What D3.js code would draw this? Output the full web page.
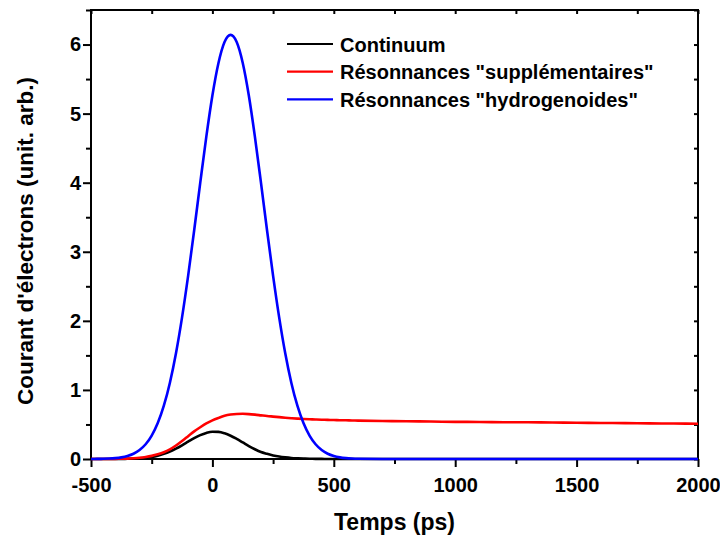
<!DOCTYPE html>
<html>
<head>
<meta charset="utf-8">
<script src="https://cdn.jsdelivr.net/npm/d3@7"></script>
<style>
  html, body { margin: 0; padding: 0; background: #fff; }
  svg { display: block; font-family: "Liberation Sans", Arial, sans-serif; font-weight: bold; }
</style>
</head>
<body>
<svg id="chart" width="720" height="539"></svg>
<script>
// Time samples (ps)
const times = [
  -500, -475, -450, -425, -400, -375, -350, -325, -300, -275,
  -250, -225, -200, -175, -150, -125, -100, -75, -50, -25,
  0, 25, 50, 75, 100, 125, 150, 175, 200, 225,
  250, 275, 300, 325, 350, 375, 400, 425, 450, 475,
  500, 525, 550, 575, 600, 700, 800, 900, 1000, 1100,
  1200, 1300, 1400, 1500, 1600, 1700, 1800, 1900, 2000
];

// Electron current, continuum contribution
const continuum = [
  0, 0, 0.0001, 0.0003, 0.0007, 0.0015, 0.0029, 0.0057, 0.0104, 0.0183,
  0.0307, 0.049, 0.0746, 0.108, 0.150, 0.198, 0.250, 0.301, 0.345, 0.377,
  0.394, 0.392, 0.372, 0.337, 0.291, 0.240, 0.188, 0.141, 0.101, 0.075,
  0.052, 0.035, 0.023, 0.014, 0.009, 0.0055, 0.0035, 0.002, 0.0012, 0.0007,
  0.0004, 0.0002, 0.0001, 0, 0, 0, 0, 0, 0, 0,
  0, 0, 0, 0, 0, 0, 0, 0, 0
];

// "Supplementary" resonances
const supplementaires = [
  0, 0.0002, 0.0005, 0.001, 0.002, 0.0035, 0.006, 0.011, 0.018, 0.029,
  0.045, 0.068, 0.098, 0.14, 0.195, 0.26, 0.33, 0.40, 0.46, 0.515,
  0.56, 0.595, 0.625, 0.643, 0.652, 0.654, 0.65, 0.642, 0.632, 0.622,
  0.614, 0.606, 0.598, 0.591, 0.585, 0.580, 0.576, 0.572, 0.569, 0.566,
  0.564, 0.562, 0.560, 0.558, 0.556, 0.550, 0.546, 0.542, 0.538, 0.536,
  0.533, 0.531, 0.528, 0.525, 0.522, 0.519, 0.516, 0.513, 0.51
];

// Hydrogen-like resonances
const hydrogenoides = [
  0.0007, 0.0015, 0.0032, 0.0064, 0.0126, 0.0237, 0.0433, 0.0762, 0.130, 0.213,
  0.339, 0.520, 0.771, 1.105, 1.531, 2.050, 2.651, 3.312, 4.00, 4.667,
  5.262, 5.733, 6.036, 6.14, 6.036, 5.733, 5.262, 4.667, 4.00, 3.312,
  2.651, 2.050, 1.531, 1.105, 0.771, 0.520, 0.339, 0.213, 0.130, 0.0762,
  0.0433, 0.0237, 0.0126, 0.0064, 0.0032, 0.0001, 0, 0, 0, 0,
  0, 0, 0, 0, 0, 0, 0, 0, 0
];

const seriesNames = ["Continuum", "Résonnances \"supplémentaires\"", "Résonnances \"hydrogenoides\""];
const seriesColors = ["#000000", "#ff0000", "#0000ff"];

const xTicks = [-500, 0, 500, 1000, 1500, 2000];
const xMinorTicks = [-250, 250, 750, 1250, 1750];
const yTicks = [0, 1, 2, 3, 4, 5, 6];
const yMinorTicks = [0.5, 1.5, 2.5, 3.5, 4.5, 5.5, 6.5];

const xTitle = "Temps (ps)";
const yTitle = "Courant d'électrons (unit. arb.)";

// Layout
const plot = { left: 91, right: 698, top: 10, bottom: 459 };

const svg = d3.select("#chart");

const x = d3.scaleLinear().domain([-500, 2000]).range([plot.left, plot.right]);
const y = d3.scaleLinear().domain([0, 6.5]).range([plot.bottom, plot.top]);

// Plain ASCII hyphen for negative numbers
const fmt = d => String(d);

function styleAxis(g) {
  g.select(".domain").remove();
  g.selectAll(".tick line").attr("stroke", "#000").attr("stroke-width", 2);
  g.selectAll(".tick text")
    .attr("fill", "#000")
    .style("font-family", "'Liberation Sans', Arial, sans-serif")
    .style("font-weight", "bold")
    .style("font-size", "20px");
}

// Bottom axis: major ticks with labels, minor ticks without
svg.append("g")
  .attr("transform", `translate(0,${plot.bottom})`)
  .call(d3.axisBottom(x).tickValues(xTicks).tickSize(8).tickPadding(11).tickFormat(fmt))
  .call(styleAxis);
svg.append("g")
  .attr("transform", `translate(0,${plot.bottom})`)
  .call(d3.axisBottom(x).tickValues(xMinorTicks).tickSize(5).tickFormat(""))
  .call(styleAxis);

// Left axis
svg.append("g")
  .attr("transform", `translate(${plot.left},0)`)
  .call(d3.axisLeft(y).tickValues(yTicks).tickSize(8).tickPadding(2).tickFormat(fmt))
  .call(styleAxis);
svg.append("g")
  .attr("transform", `translate(${plot.left},0)`)
  .call(d3.axisLeft(y).tickValues(yMinorTicks).tickSize(5).tickFormat(""))
  .call(styleAxis);

// Top and right axes: short inward ticks
svg.append("g")
  .attr("transform", `translate(0,${plot.top})`)
  .call(d3.axisTop(x).tickValues(xTicks.concat(xMinorTicks)).tickSize(-4).tickFormat(""))
  .call(styleAxis);
svg.append("g")
  .attr("transform", `translate(${plot.right},0)`)
  .call(d3.axisRight(y).tickValues(yTicks.concat(yMinorTicks)).tickSize(-4).tickFormat(""))
  .call(styleAxis);

// Frame
svg.append("rect")
  .attr("x", plot.left).attr("y", plot.top)
  .attr("width", plot.right - plot.left).attr("height", plot.bottom - plot.top)
  .attr("fill", "none").attr("stroke", "#000").attr("stroke-width", 2);

// Curves
const allSeries = [continuum, supplementaires, hydrogenoides];
const line = d3.line()
  .x((d, i) => x(times[i]))
  .y(d => y(d))
  .curve(d3.curveMonotoneX);

allSeries.forEach((vals, k) => {
  svg.append("path")
    .datum(vals)
    .attr("d", line)
    .attr("fill", "none")
    .attr("stroke", seriesColors[k])
    .attr("stroke-width", 2.6)
    .attr("stroke-linejoin", "round");
});

// Legend
const legend = svg.append("g");
seriesNames.forEach((name, k) => {
  const cy = 44 + k * 27.7;
  legend.append("line")
    .attr("x1", 287).attr("x2", 333)
    .attr("y1", cy).attr("y2", cy)
    .attr("stroke", seriesColors[k]).attr("stroke-width", 2.2);
  legend.append("text")
    .attr("x", 340).attr("y", cy + 7.5)
    .attr("fill", "#000")
    .style("font-size", "20px")
    .text(name);
});

// Axis titles
svg.append("text")
  .attr("x", (plot.left + plot.right) / 2)
  .attr("y", 530)
  .attr("text-anchor", "middle")
  .style("font-size", "23px")
  .text(xTitle);

svg.append("text")
  .attr("transform", "translate(33,241) rotate(-90)")
  .attr("text-anchor", "middle")
  .style("font-size", "22.5px")
  .text(yTitle);
</script>
</body>
</html>
